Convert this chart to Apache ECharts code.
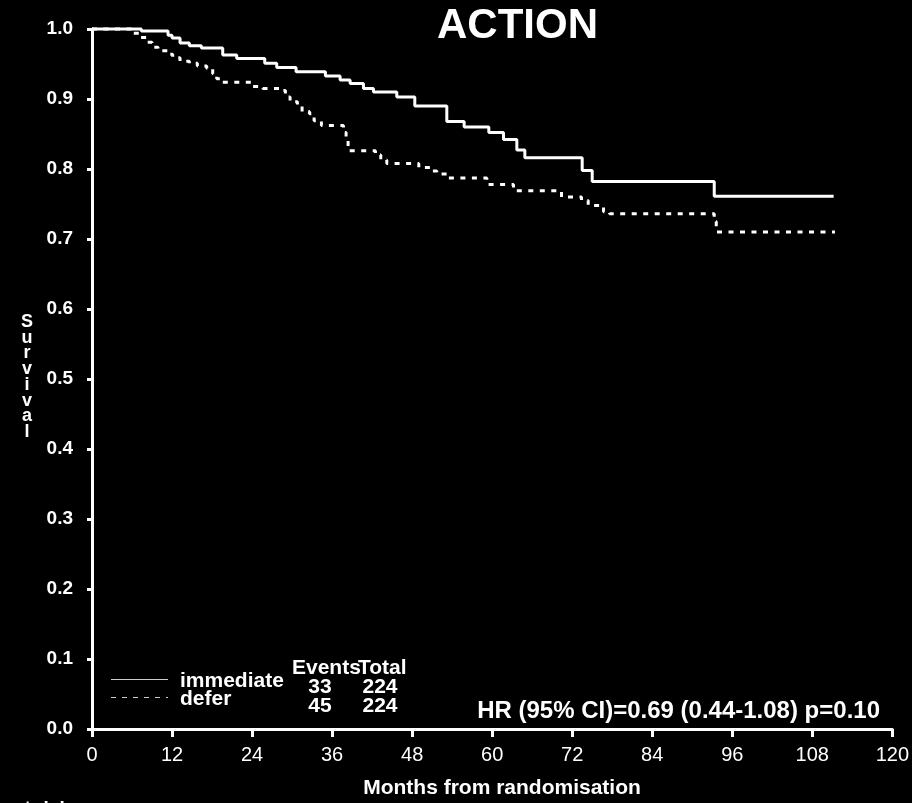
<!DOCTYPE html>
<html>
<head>
<meta charset="utf-8">
<script src="https://cdn.jsdelivr.net/npm/echarts@6/dist/echarts.min.js"></script>
<style>
  html, body { margin: 0; padding: 0; background: #000; }
  #chart { width: 912px; height: 803px; }
</style>
</head>
<body>
<div id="chart"></div>
<script>
// Kaplan-Meier steps (months, survival)
const immTime = [0, 7.4, 11.4, 12.0, 13.2, 14.6, 16.4, 19.6, 21.7, 25.9, 27.7, 30.6, 35.0, 37.2, 38.7, 40.7, 42.2, 45.7, 48.4, 53.2, 55.8, 59.5, 61.7, 63.7, 64.9, 73.5, 75.0, 93.3, 111.2]
const immSurv = [1.0, 0.997, 0.991, 0.987, 0.980, 0.976, 0.973, 0.963, 0.958, 0.951, 0.945, 0.939, 0.933, 0.927, 0.922, 0.915, 0.910, 0.903, 0.890, 0.868, 0.860, 0.852, 0.842, 0.827, 0.816, 0.798, 0.782, 0.761, 0.761]

const deferTime = [0, 6.1, 7.2, 8.2, 9.0, 9.9, 11.4, 12.1, 13.2, 14.6, 15.8, 17.2, 18.1, 18.7, 19.4, 23.9, 25.6, 28.1, 29.0, 29.7, 30.8, 31.5, 32.6, 33.3, 34.4, 37.7, 38.1, 38.4, 42.5, 43.3, 44.2, 49.0, 50.8, 51.7, 53.5, 59.2, 63.2, 70.4, 73.4, 74.4, 76.7, 77.6, 93.3, 93.6, 111.4]
const deferSurv = [1.0, 0.994, 0.988, 0.981, 0.974, 0.969, 0.964, 0.959, 0.954, 0.951, 0.947, 0.944, 0.936, 0.929, 0.924, 0.918, 0.915, 0.912, 0.903, 0.896, 0.892, 0.882, 0.879, 0.869, 0.862, 0.852, 0.841, 0.826, 0.820, 0.813, 0.808, 0.802, 0.797, 0.793, 0.787, 0.778, 0.769, 0.760, 0.755, 0.748, 0.739, 0.736, 0.725, 0.710, 0.710]

const groups = ['immediate', 'defer']
const events = [33, 45]
const totals = [224, 224]
const hrText = 'HR (95% CI)=0.69 (0.44-1.08) p=0.10'

const zip = (t, s) => t.map((v, i) => [v, s[i]])
const W = '#fff'
const bold = 'bold'
const FF = 'Liberation Sans, Arial, sans-serif'

const chart = echarts.init(document.getElementById('chart'))

chart.setOption({
  backgroundColor: '#000',
  animation: false,
  textStyle: { fontFamily: FF },
  grid: { left: 92, right: 17, top: 29, bottom: 74, containLabel: false },
  xAxis: {
    type: 'value', min: 0, max: 120, interval: 12,
    axisLine: { lineStyle: { color: W, width: 3 } },
    axisTick: { length: 8, lineStyle: { color: W, width: 3 } },
    axisLabel: { color: W, fontSize: 20, margin: 16, showMinLabel: true, showMaxLabel: true },
    splitLine: { show: false },
  },
  yAxis: {
    type: 'value', min: 0, max: 1, interval: 0.1,
    axisLine: { show: true, lineStyle: { color: W, width: 3 } },
    axisTick: { show: true, length: 5, lineStyle: { color: W, width: 3 } },
    axisLabel: { color: W, fontSize: 19, fontWeight: bold, margin: 19, formatter: v => v.toFixed(1) },
    splitLine: { show: false },
  },
  series: [
    {
      name: groups[0], type: 'line', step: 'end', showSymbol: false, clip: false,
      lineStyle: { color: W, width: 3 }, data: zip(immTime, immSurv),
    },
    {
      name: groups[1], type: 'line', step: 'end', showSymbol: false, clip: false,
      lineStyle: { color: W, width: 3, type: [5, 6.5] }, data: zip(deferTime, deferSurv),
    },
  ],
  graphic: [
    { type: 'text', left: 437, top: 5, style: { text: 'ACTION', fill: W, font: `bold 42px ${FF}` } },
    { type: 'text', x: 27, y: 377, style: { text: 'Survival'.split('').join('\n'), fill: W, font: `bold 18px ${FF}`, lineHeight: 15.7, align: 'center', verticalAlign: 'middle' } },
    { type: 'text', x: 502, y: 788, style: { text: 'Months from randomisation', fill: W, font: `bold 21px ${FF}`, align: 'center', verticalAlign: 'middle' } },
    { type: 'text', x: 70, y: 809, style: { text: 'Numbers at risk', fill: W, font: `bold 19px ${FF}`, align: 'right', verticalAlign: 'middle' } },
    { type: 'text', x: 880, y: 711, style: { text: hrText, fill: W, font: `bold 24px ${FF}`, align: 'right', verticalAlign: 'middle' } },
    // legend table
    { type: 'line', shape: { x1: 111, y1: 679.5, x2: 168, y2: 679.5 }, style: { stroke: '#ccc', lineWidth: 1 } },
    { type: 'line', shape: { x1: 111, y1: 697.5, x2: 168, y2: 697.5 }, style: { stroke: '#ccc', lineWidth: 1, lineDash: [5, 6] } },
    { type: 'text', x: 180, y: 681, style: { text: groups[0], fill: W, font: `bold 21px ${FF}`, verticalAlign: 'middle' } },
    { type: 'text', x: 180, y: 699, style: { text: groups[1], fill: W, font: `bold 21px ${FF}`, verticalAlign: 'middle' } },
    { type: 'text', x: 292, y: 668, style: { text: 'Events', fill: W, font: `bold 21px ${FF}`, verticalAlign: 'middle' } },
    { type: 'text', x: 358, y: 668, style: { text: 'Total', fill: W, font: `bold 21px ${FF}`, verticalAlign: 'middle' } },
    { type: 'text', x: 320, y: 687, style: { text: String(events[0]), fill: W, font: `bold 21px ${FF}`, align: 'center', verticalAlign: 'middle' } },
    { type: 'text', x: 380, y: 687, style: { text: String(totals[0]), fill: W, font: `bold 21px ${FF}`, align: 'center', verticalAlign: 'middle' } },
    { type: 'text', x: 320, y: 706, style: { text: String(events[1]), fill: W, font: `bold 21px ${FF}`, align: 'center', verticalAlign: 'middle' } },
    { type: 'text', x: 380, y: 706, style: { text: String(totals[1]), fill: W, font: `bold 21px ${FF}`, align: 'center', verticalAlign: 'middle' } },
  ],
})
</script>
</body>
</html>
